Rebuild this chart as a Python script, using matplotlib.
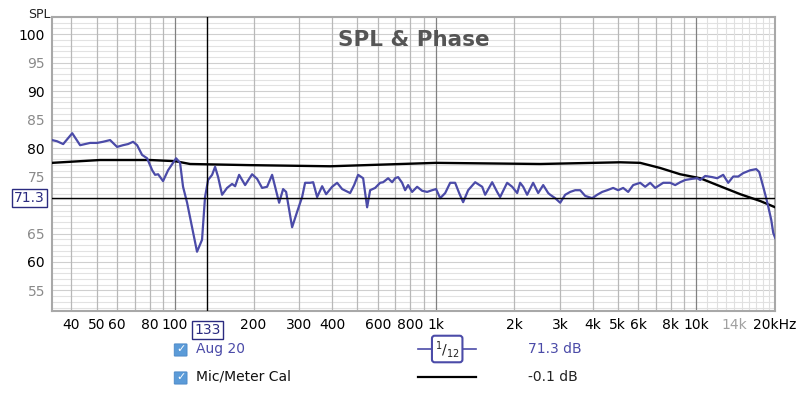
import numpy as np
import matplotlib
matplotlib.use('Agg')
import matplotlib.pyplot as plt
from matplotlib.patches import FancyBboxPatch
from matplotlib.lines import Line2D
from matplotlib.transforms import blended_transform_factory

# measurement "Aug 20" (1/12 oct smoothing)
aug_freq = [33.7, 35.2, 37.2, 40.3, 43.2, 47.2, 50.2, 52.9, 56.3, 59.9, 63.1, 66.0, 69.0, 71.5,
            74.7, 78.1, 81.7, 83.8, 86.1, 89.9, 94.0, 100.9, 104.5, 107.3, 111.2, 116.2, 121.4,
            126.9, 130.3, 133.9, 138.7, 142.4, 146.3, 151.5, 158.3, 165.5, 170.0, 176.1, 185.7,
            197.5, 206.4, 215.8, 225.5, 235.7, 242.0, 250.8, 259.8, 266.8, 281.3, 294.0, 307.3,
            315.5, 329.8, 338.8, 350.9, 366.8, 379.9, 400.6, 418.7, 437.7, 469.7, 486.6, 504.1,
            526.9, 545.8, 560.5, 585.9, 612.3, 628.8, 657.2, 680.8, 699.1, 717.8, 743.6, 763.6,
            784.1, 812.3, 849.1, 887.4, 927.7, 969.6, 1004, 1041, 1088, 1137, 1188, 1231, 1275,
            1333, 1418, 1509, 1549, 1648, 1722, 1768, 1881, 1967, 2056, 2110, 2168, 2245, 2367,
            2475, 2587, 2704, 2752, 2876, 3006, 3142, 3284, 3432, 3587, 3749, 3989, 4169, 4358,
            4554, 4801, 5018, 5245, 5482, 5730, 6096, 6371, 6659, 6960, 7471, 7947, 8307, 8682,
            9075, 9652, 10088, 10360, 10828, 11519, 12039, 12694, 13268, 13868, 14495, 15150,
            16115, 16993, 17450, 18082, 18735, 19409, 19755, 20108]
aug_spl = [81.4, 81.2, 80.7, 82.6, 80.5, 80.9, 80.9, 81.1, 81.4, 80.2, 80.5, 80.7, 81.1, 80.5,
           78.8, 78.2, 76.1, 75.3, 75.4, 74.2, 76.1, 78.2, 77.4, 73.2, 70.4, 66.1, 61.8,
           63.9, 71.4, 74.4, 75.3, 76.7, 74.9, 71.8, 73.0, 73.7, 73.3, 75.3, 73.5,
           75.4, 74.6, 73.0, 73.2, 75.3, 73.2, 70.4, 72.8, 72.3, 66.1, 68.8, 71.4,
           73.9, 73.9, 74.0, 71.4, 73.3, 71.9, 73.2, 73.9, 72.8, 72.1, 73.5, 75.3,
           74.7, 69.6, 72.6, 73.0, 73.9, 74.0, 74.7, 74.0, 74.7, 74.9, 73.9, 72.6,
           73.5, 72.3, 73.2, 72.5, 72.3, 72.6, 72.8, 71.2, 72.1, 73.9, 73.9, 72.1, 70.5,
           72.6, 74.0, 73.2, 71.8, 74.0, 72.3, 71.4, 73.9, 73.2, 72.1, 73.9, 73.2, 71.8, 73.9,
           72.1, 73.5, 72.1, 71.8, 71.2, 70.4, 71.8, 72.3, 72.6, 72.6, 71.6, 71.2, 71.8, 72.3,
           72.6, 73.0, 72.6, 73.0, 72.3, 73.5, 73.9, 73.2, 73.9, 73.0, 73.9, 73.9, 73.5, 74.0,
           74.4, 74.6, 74.7, 74.4, 75.1, 74.9, 74.7, 75.3, 73.9, 75.0, 75.0, 75.6,
           76.1, 76.3, 75.8, 73.2, 70.5, 67.4, 65.1, 64.2]

# mic / meter calibration curve
cal_freq = [33.7, 51.5, 80.2, 100, 114.2, 194, 393.7, 1004, 2519, 5108, 6096, 7276, 8682,
            10360, 12355, 14760, 17610, 20108]
cal_spl = [77.4, 77.9, 77.9, 77.7, 77.2, 77.0, 76.8, 77.4, 77.2, 77.5, 77.4, 76.5, 75.4,
           74.7, 73.3, 71.9, 70.7, 69.6]

xtick_vals = [40, 50, 60, 80, 100, 200, 300, 400, 600, 800, 1000, 2000, 3000, 4000, 5000,
              6000, 8000, 10000, 14000, 20000]
xtick_labels = ['40', '50', '60', '80', '100', '200', '300', '400', '600', '800', '1k', '2k',
                '3k', '4k', '5k', '6k', '8k', '10k', '14k', '20kHz']
ytick_vals = [55, 60, 65, 75, 80, 85, 90, 95, 100]

cursor_f = 133
cursor_db = 71.3

blue = '#4b4ba8'

fig = plt.figure(figsize=(8, 3.93), dpi=100)
ax = fig.add_axes([0.065, 0.2087, 0.904, 0.748])
ax.set_xscale('log')
ax.set_xlim(33.7, 20100)
ax.set_ylim(51.4, 103)

# grid
for db in range(52, 104):
    c = '#cfcfcf' if db % 5 == 0 else '#e2e2e2'
    ax.axhline(db, color=c, lw=0.8, zorder=0)
for dec in [10, 100, 1000, 10000]:
    for m in range(1, 10):
        f = dec * m
        if f < 33.7 or f > 20100:
            continue
        c = '#808080' if m == 1 else '#b8b8b8'
        ax.axvline(f, color=c, lw=0.9, zorder=0)
for f in range(11000, 20001, 1000):
    ax.axvline(f, color='#e0e0e0', lw=0.8, zorder=0)

ax.plot(cal_freq, cal_spl, color='black', lw=1.7, zorder=3)
ax.plot(aug_freq, aug_spl, color=blue, lw=1.6, zorder=4)

# cursor
ax.axvline(cursor_f, color='black', lw=1.0, zorder=5)
ax.axhline(cursor_db, color='black', lw=1.0, zorder=5)

ax.set_xticks(xtick_vals)
ax.set_xticklabels(xtick_labels)
ax.xaxis.set_minor_locator(matplotlib.ticker.NullLocator())
ax.set_yticks(ytick_vals)
ax.set_yticklabels([str(v) for v in ytick_vals])
ax.tick_params(length=0, labelsize=10, pad=5)
for lab in ax.get_xticklabels():
    if lab.get_text() == '14k':
        lab.set_color('#a0a0a0')
for lab, v in zip(ax.get_yticklabels(), ytick_vals):
    lab.set_color('black' if v % 10 == 0 else '#8a8a8a')

for s in ax.spines.values():
    s.set_color('#a8a8a8')
    s.set_linewidth(1.5)

# cursor value boxes
tx = blended_transform_factory(ax.transData, ax.transAxes)
ax.text(cursor_f, -0.04, '133', transform=tx, ha='center', va='top', fontsize=10,
        color='#2b2b80', clip_on=False, zorder=10,
        bbox=dict(boxstyle='square,pad=0.15', fc='white', ec='#2b2b80', lw=1))
ty = blended_transform_factory(ax.transAxes, ax.transData)
ax.text(-0.01, cursor_db, '71.3', transform=ty, ha='right', va='center', fontsize=10,
        color='#2b2b80', clip_on=False, zorder=10,
        bbox=dict(boxstyle='square,pad=0.15', fc='white', ec='#2b2b80', lw=1))

ax.text(0.5, 0.955, 'SPL & Phase', transform=ax.transAxes, ha='center', va='top',
        fontsize=15.5, fontweight='bold', color='#555555')
fig.text(0.035, 0.98, 'SPL', ha='left', va='top', fontsize=9, color='#222222')

# legend rows
rows = [('Aug 20', blue, '71.3 dB', blue), ('Mic/Meter Cal', 'black', '-0.1 dB', '#222222')]
row_y = [1 - 349 / 393, 1 - 377 / 393]
for (name, lc, val, vc), y in zip(rows, row_y):
    fig.patches.append(FancyBboxPatch((0.2188, y - 0.017), 0.014, 0.029,
                                      boxstyle='round,pad=0.001', fc='#5b9bd8', ec='#4a86c5',
                                      lw=0.6, transform=fig.transFigure))
    fig.text(0.2258, y, '✓', ha='center', va='center', fontsize=8, color='white',
             fontweight='bold')
    fig.text(0.245, y, name, ha='left', va='center', fontsize=10,
             color=blue if name == 'Aug 20' else '#111111')
    fig.lines.append(Line2D([0.522, 0.595], [y, y], color=lc, lw=1.6 if lc == 'black' else 1.2,
                            transform=fig.transFigure))
    fig.text(0.66, y, val, ha='left', va='center', fontsize=10, color=vc)

fig.text(0.559, row_y[0], r'$^{1}/_{12}$', ha='center', va='center', fontsize=10,
         color='#222222',
         bbox=dict(boxstyle='round,pad=0.2', fc='white', ec=blue, lw=1.5))

fig.savefig('out.png', dpi=100)
